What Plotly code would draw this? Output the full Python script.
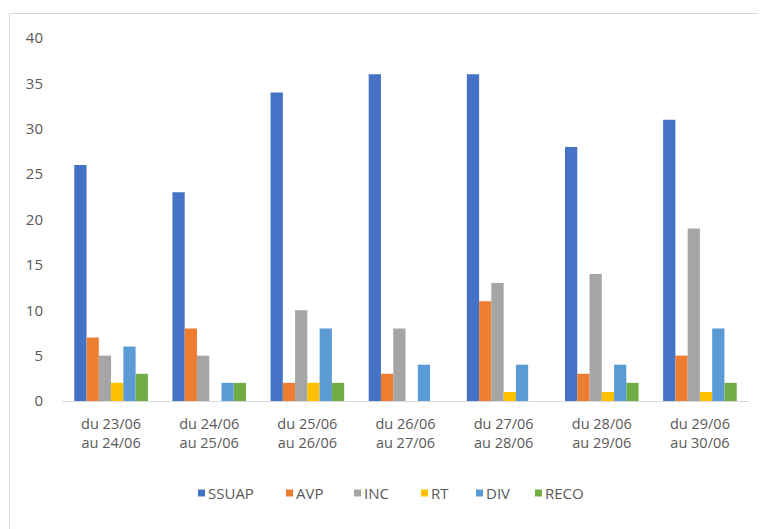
import plotly.graph_objects as go

categories = ["du 23/06<br>au 24/06", "du 24/06<br>au 25/06", "du 25/06<br>au 26/06",
              "du 26/06<br>au 27/06", "du 27/06<br>au 28/06", "du 28/06<br>au 29/06",
              "du 29/06<br>au 30/06"]
ssuap = [26, 23, 34, 36, 36, 28, 31]
avp = [7, 8, 2, 3, 11, 3, 5]
inc = [5, 5, 10, 8, 13, 14, 19]
rt = [2, 0, 2, 0, 1, 1, 1]
div = [6, 2, 8, 4, 4, 4, 8]
reco = [3, 2, 2, 0, 0, 2, 2]

names = ["SSUAP", "AVP", "INC", "RT", "DIV", "RECO"]
values = [ssuap, avp, inc, rt, div, reco]
colors = ["#4472C4", "#ED7D31", "#A5A5A5", "#FFC000", "#5B9BD5", "#70AD47"]

fig = go.Figure()
for name, vals, col in zip(names, values, colors):
    fig.add_trace(go.Bar(name=name, x=categories, y=vals, marker_color=col,
                         marker_line_width=0, showlegend=False))

OFF = 8  # page body offset
W, H = 766 - OFF, 529 - OFF
L, T = 62 - OFF, 38 - OFF
R = W - (749 - OFF)
B = H - (401 - OFF)
pw = W - L - R
ph = H - T - B


def px(x):
    return (x - OFF - L) / pw


def py(y):
    return (H - B - (y - OFF)) / ph


shapes = [
    dict(type="line", xref="paper", yref="paper",
         x0=px(9.5), x1=px(9.5), y0=py(13), y1=py(560),
         line=dict(color="#D9D9D9", width=1)),
    dict(type="line", xref="paper", yref="paper",
         x0=px(9.5), x1=px(800), y0=py(13.5), y1=py(13.5),
         line=dict(color="#D9D9D9", width=1)),
]
annotations = []
leg_x = [198, 286, 354, 421, 476, 535]
leg_y = 493
for name, col, lx in zip(names, colors, leg_x):
    shapes.append(dict(type="rect", xref="paper", yref="paper",
                       x0=px(lx), x1=px(lx + 7), y0=py(leg_y + 3.5), y1=py(leg_y - 3.5),
                       fillcolor=col, line=dict(width=0)))
    annotations.append(dict(text=name, xref="paper", yref="paper", x=px(lx + 8),
                            y=py(leg_y), xanchor="left", yanchor="middle", showarrow=False,
                            font=dict(size=15, color="#595959")))

fig.update_layout(
    width=W, height=H,
    margin=dict(l=L, r=R, t=T, b=B, pad=0),
    paper_bgcolor="white", plot_bgcolor="white",
    barmode="group", bargap=0.25, bargroupgap=0,
    font=dict(family="Open Sans, Liberation Sans, sans-serif", size=14, color="#595959"),
    showlegend=False,
    xaxis=dict(showgrid=False, showline=True, linecolor="#D9D9D9", linewidth=1,
               ticks="outside", ticklen=10, tickcolor="rgba(0,0,0,0)",
               tickfont=dict(size=14.5, color="#595959")),
    yaxis=dict(range=[0, 40], dtick=5, showgrid=False, zeroline=False, showline=False,
               ticks="outside", ticklen=15, tickcolor="rgba(0,0,0,0)",
               tickfont=dict(size=15, color="#595959")),
    shapes=shapes,
    annotations=annotations,
)

fig.write_html("out.html")
